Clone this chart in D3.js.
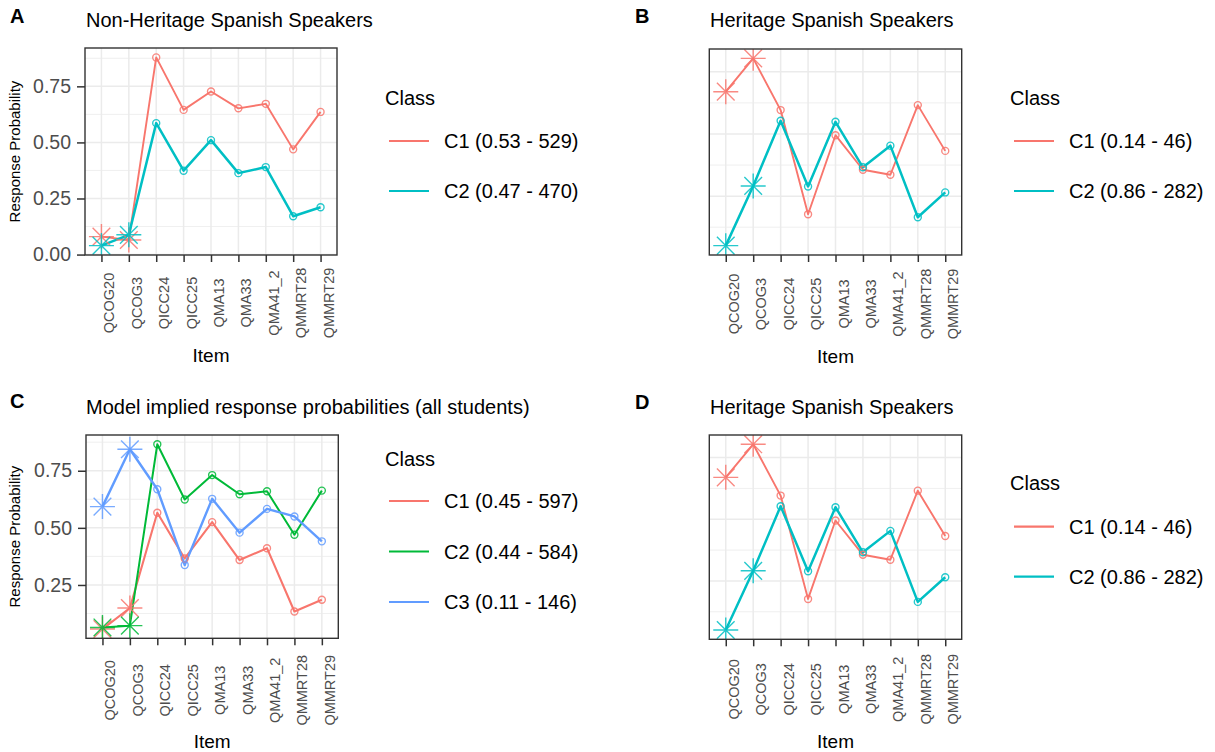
<!DOCTYPE html>
<html>
<head>
<meta charset="utf-8">
<script src="https://cdn.jsdelivr.net/npm/d3@7"></script>
<style>
  html, body { margin: 0; padding: 0; background: #fff; }
  svg { display: block; font-family: "Liberation Sans", Arial, sans-serif; }
</style>
</head>
<body>
<svg id="chart" width="1215" height="752"></svg>
<script>
// Items on the x axis (same order in every panel)
const items = ["QCOG20", "QCOG3", "QICC24", "QICC25", "QMA13", "QMA33", "QMA41_2", "QMMRT28", "QMMRT29"];
// Items drawn with an asterisk marker instead of an open circle
const starItems = ["QCOG20", "QCOG3"];
const yTickValues = [0, 0.25, 0.5, 0.75, 1];
const yMinorValues = [0.125, 0.375, 0.625, 0.875];

// A: non-heritage Spanish speakers, two classes
const nonHeritageC1 = [0.080, 0.065, 0.879, 0.645, 0.727, 0.652, 0.672, 0.469, 0.636];
const nonHeritageC2 = [0.040, 0.088, 0.586, 0.374, 0.510, 0.363, 0.390, 0.171, 0.211];
const nonHeritageLabels = ["C1 (0.53 - 529)", "C2 (0.47 - 470)"];

// B and D: heritage Spanish speakers, two classes
const heritageC1 = [0.670, 0.804, 0.596, 0.177, 0.495, 0.356, 0.336, 0.616, 0.432];
const heritageC2 = [0.051, 0.291, 0.553, 0.289, 0.549, 0.366, 0.453, 0.165, 0.265];
const heritageLabels = ["C1 (0.14 - 46)", "C2 (0.86 - 282)"];

// C: all students, three classes
const allC1 = [0.057, 0.149, 0.566, 0.366, 0.525, 0.359, 0.411, 0.134, 0.185];
const allC2 = [0.064, 0.072, 0.866, 0.624, 0.731, 0.647, 0.660, 0.470, 0.663];
const allC3 = [0.593, 0.844, 0.669, 0.337, 0.627, 0.479, 0.583, 0.550, 0.441];
const allLabels = ["C1 (0.45 - 597)", "C2 (0.44 - 584)", "C3 (0.11 - 146)"];

const hue2 = ["#F8766D", "#00BFC4"];
const hue3 = ["#F8766D", "#00BA38", "#619CFF"];

const svg = d3.select("#chart");

const panels = [
  { id: "A", tag: "A", tagX: 10, tagY: 23, title: "Non-Heritage Spanish Speakers", titleX: 86, titleY: 27,
    box: { l: 85, r: 337, t: 48, b: 255 }, yAxis: true, xLabOff: 48, itemY: 362,
    series: [nonHeritageC1, nonHeritageC2], colors: hue2, widths: [1.9, 2.5], labels: nonHeritageLabels,
    legend: { x: 385, titleY: 105, firstY: 141, gap: 50 } },
  { id: "B", tag: "B", tagX: 635, tagY: 23, title: "Heritage Spanish Speakers", titleX: 710, titleY: 27,
    box: { l: 709.3, r: 961.7, t: 49, b: 255 }, yAxis: false, xLabOff: 49, itemY: 363,
    series: [heritageC1, heritageC2], colors: hue2, widths: [1.9, 2.5], labels: heritageLabels,
    legend: { x: 1010, titleY: 105, firstY: 141, gap: 50 } },
  { id: "C", tag: "C", tagX: 10, tagY: 408, title: "Model implied response probabilities (all students)", titleX: 86, titleY: 414,
    box: { l: 86, r: 338.3, t: 435, b: 638.3 }, yAxis: true, xLabOff: 52, itemY: 748,
    series: [allC1, allC2, allC3], colors: hue3, widths: [2.1, 2.0, 2.4], labels: allLabels,
    legend: { x: 385, titleY: 466, firstY: 501, gap: 50.5 } },
  { id: "D", tag: "D", tagX: 635, tagY: 409, title: "Heritage Spanish Speakers", titleX: 710, titleY: 414,
    box: { l: 709.3, r: 961.7, t: 435, b: 639.3 }, yAxis: false, xLabOff: 50, itemY: 748,
    series: [heritageC1, heritageC2], colors: hue2, widths: [1.9, 2.5], labels: heritageLabels,
    legend: { x: 1010, titleY: 490, firstY: 526.7, gap: 50 } }
];

// Asterisk (ggplot shape 8): plus + cross
function starPath(r) {
  const d = r * Math.SQRT1_2;
  return `M${-r},0L${r},0M0,${-r}L0,${r}M${-d},${-d}L${d},${d}M${-d},${d}L${d},${-d}`;
}

panels.forEach(p => {
  const g = svg.append("g");
  const { l, r, t, b } = p.box;

  // y range with 5% expansion on each side of the data
  const all = p.series.flat();
  const lo = d3.min(all), hi = d3.max(all), span = hi - lo;
  const y = d3.scaleLinear().domain([lo - 0.05 * span, hi + 0.05 * span]).range([b, t]);
  const x = d3.scalePoint().domain(items).range([l, r]).padding(0.6);
  const [d0, d1] = y.domain();
  const inDom = v => v >= d0 && v <= d1;

  // panel background and grid
  g.append("rect").attr("x", l).attr("y", t).attr("width", r - l).attr("height", b - t).attr("fill", "#fff");
  g.selectAll(".minor").data(yMinorValues.filter(inDom)).join("line")
    .attr("x1", l).attr("x2", r).attr("y1", d => y(d)).attr("y2", d => y(d))
    .attr("stroke", "#EBEBEB").attr("stroke-width", 0.8);
  g.selectAll(".major").data(yTickValues.filter(inDom)).join("line")
    .attr("x1", l).attr("x2", r).attr("y1", d => y(d)).attr("y2", d => y(d))
    .attr("stroke", "#EBEBEB").attr("stroke-width", 1.5);
  g.selectAll(".vmajor").data(items).join("line")
    .attr("x1", d => x(d)).attr("x2", d => x(d)).attr("y1", t).attr("y2", b)
    .attr("stroke", "#EBEBEB").attr("stroke-width", 1.5);

  // clipped data layer
  const clipId = "clip" + p.id;
  svg.append("clipPath").attr("id", clipId)
    .append("rect").attr("x", l).attr("y", t).attr("width", r - l).attr("height", b - t);
  const dg = g.append("g").attr("clip-path", `url(#${clipId})`);

  const line = d3.line().x((d, i) => x(items[i])).y(d => y(d));
  p.series.forEach((s, k) => {
    dg.append("path").datum(s).attr("d", line)
      .attr("fill", "none").attr("stroke", p.colors[k]).attr("stroke-width", p.widths[k])
      .attr("stroke-linejoin", "round");
  });
  p.series.forEach((s, k) => {
    const pts = s.map((v, i) => ({ item: items[i], v }));
    dg.selectAll(null).data(pts.filter(d => !starItems.includes(d.item))).join("circle")
      .attr("cx", d => x(d.item)).attr("cy", d => y(d.v)).attr("r", 3.5)
      .attr("fill", "none").attr("stroke", p.colors[k]).attr("stroke-width", 1.4).attr("opacity", 0.85);
    dg.selectAll(null).data(pts.filter(d => starItems.includes(d.item))).join("path")
      .attr("transform", d => `translate(${x(d.item)},${y(d.v)})`)
      .attr("d", starPath(12.5))
      .attr("fill", "none").attr("stroke", p.colors[k]).attr("stroke-width", 1.4).attr("opacity", 0.85);
  });

  // panel border
  g.append("rect").attr("x", l).attr("y", t).attr("width", r - l).attr("height", b - t)
    .attr("fill", "none").attr("stroke", "#333333").attr("stroke-width", 1.4);

  // x axis
  const xa = g.append("g").attr("transform", `translate(0,${b})`)
    .call(d3.axisBottom(x).tickSize(7).tickSizeOuter(0));
  xa.select(".domain").remove();
  xa.selectAll(".tick line").attr("stroke", "#333333").attr("stroke-width", 1.5);
  xa.selectAll(".tick text")
    .attr("transform", `translate(12.5,${p.xLabOff}) rotate(-90)`)
    .attr("x", 0).attr("y", 0).attr("dy", null)
    .attr("text-anchor", "middle")
    .attr("fill", "#4D4D4D").style("font-size", "14.5px");

  // y axis (panels A and C only)
  if (p.yAxis) {
    const ya = g.append("g").attr("transform", `translate(${l},0)`)
      .call(d3.axisLeft(y).tickValues(yTickValues.filter(inDom)).tickFormat(d3.format(".2f")).tickSize(8).tickSizeOuter(0));
    ya.select(".domain").remove();
    ya.selectAll(".tick line").attr("stroke", "#333333").attr("stroke-width", 1.5);
    ya.selectAll(".tick text").attr("x", -14).attr("fill", "#4D4D4D").style("font-size", "19.5px");
    g.append("text")
      .attr("transform", `translate(20,${(t + b) / 2}) rotate(-90)`)
      .attr("text-anchor", "middle").style("font-size", "15px").attr("fill", "#000")
      .text("Response Probability");
  }

  // x axis title
  g.append("text").attr("x", (l + r) / 2).attr("y", p.itemY)
    .attr("text-anchor", "middle").style("font-size", "19px").attr("fill", "#000").text("Item");

  // tag and title
  g.append("text").attr("x", p.tagX).attr("y", p.tagY)
    .style("font-size", "20px").style("font-weight", "bold").attr("fill", "#000").text(p.tag);
  g.append("text").attr("x", p.titleX).attr("y", p.titleY)
    .style("font-size", "20px").attr("fill", "#000").text(p.title);

  // legend
  const lg = g.append("g");
  lg.append("text").attr("x", p.legend.x).attr("y", p.legend.titleY)
    .style("font-size", "20px").attr("fill", "#000").text("Class");
  p.labels.forEach((lab, k) => {
    const ly = p.legend.firstY + k * p.legend.gap;
    lg.append("line").attr("x1", p.legend.x + 4).attr("x2", p.legend.x + 44)
      .attr("y1", ly).attr("y2", ly).attr("stroke", p.colors[k]).attr("stroke-width", 2.2);
    lg.append("text").attr("x", p.legend.x + 59).attr("y", ly + 7)
      .style("font-size", "20px").attr("fill", "#000").text(lab);
  });
});
</script>
</body>
</html>
